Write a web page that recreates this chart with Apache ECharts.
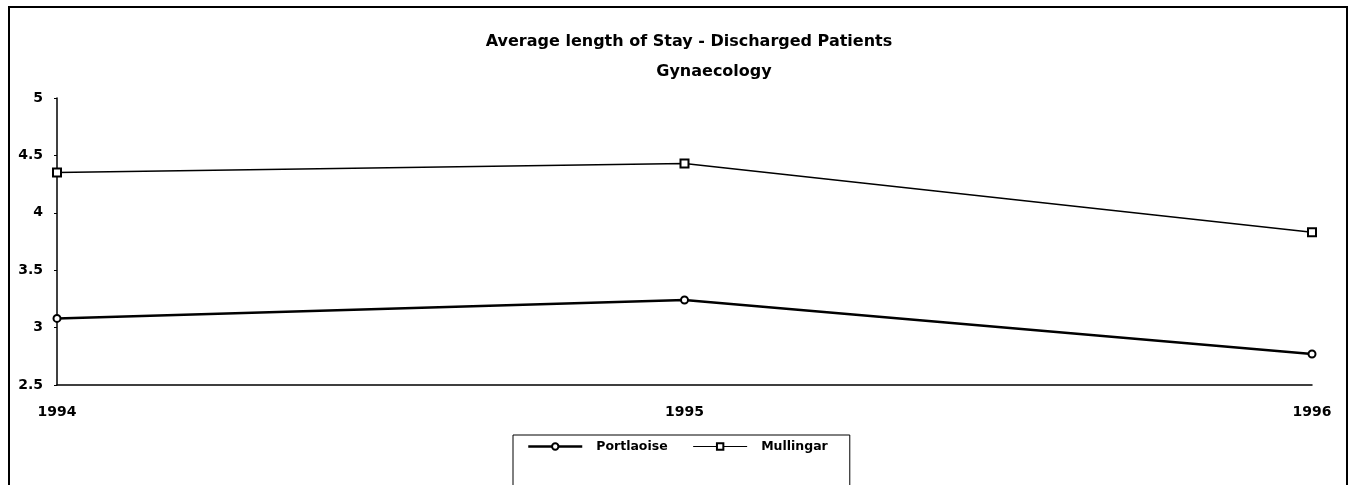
<!DOCTYPE html>
<html>
<head>
<meta charset="utf-8">
<script src="https://cdn.jsdelivr.net/npm/echarts@6/dist/echarts.min.js"></script>
<style>
html,body{margin:0;padding:0;background:#fff;}
#chart{width:1354px;height:485px;}
</style>
</head>
<body>
<div id="chart"></div>
<script>
// years on the x axis
var years = ['1994', '1995', '1996'];
// average length of stay (days)
var portlaoise = [3.08, 3.24, 2.77];
var mullingar = [4.35, 4.43, 3.83];

var font = '"DejaVu Sans", Verdana, sans-serif';

function drawChart() {
	var myChart = echarts.init(document.getElementById('chart'));
	var option = {
		backgroundColor: '#fff',
		animation: false,
		title: [{
			text: 'Average length of Stay - Discharged Patients',
			left: 684, top: 29, textAlign: 'center',
			textStyle: {fontFamily: font, fontSize: 16, fontWeight: 'bold', color: '#000'}
		}, {
			text: 'Gynaecology',
			left: 709, top: 59, textAlign: 'center',
			textStyle: {fontFamily: font, fontSize: 16, fontWeight: 'bold', color: '#000'}
		}],
		graphic: [{
			type: 'rect',
			shape: {x: 9, y: 7, width: 1338, height: 490},
			style: {fill: 'none', stroke: '#000', lineWidth: 2}
		}],
		legend: {
			data: [
				{name: 'Portlaoise', lineStyle: {width: 2.5}},
				{name: 'Mullingar', lineStyle: {width: 1}}
			],
			left: 513, top: 435,
			orient: 'horizontal',
			itemWidth: 54, itemHeight: 8, itemGap: 25,
			padding: [4, 22, 40, 14],
			borderColor: '#000', borderWidth: 1,
			textStyle: {fontFamily: font, fontSize: 12.5, fontWeight: 'bold', color: '#000', padding: [0, 0, 0, 9], lineHeight: 15}
		},
		grid: {left: 57, right: 42, top: 98, bottom: 100},
		xAxis: {
			type: 'category',
			data: years,
			boundaryGap: false,
			axisLine: {lineStyle: {color: '#000', width: 1.5}},
			axisTick: {show: false},
			axisLabel: {fontFamily: font, fontSize: 14, fontWeight: 'bold', color: '#000', margin: 20}
		},
		yAxis: {
			type: 'value',
			min: 2.5, max: 5, interval: 0.5,
			splitLine: {show: false},
			axisLine: {show: true, lineStyle: {color: '#000', width: 1.5}},
			axisTick: {show: true, length: 3, lineStyle: {color: '#000'}},
			axisLabel: {fontFamily: font, fontSize: 14, fontWeight: 'bold', color: '#000', margin: 14}
		},
		series: [{
			name: 'Portlaoise',
			type: 'line',
			data: portlaoise,
			symbol: 'emptyCircle', symbolSize: 7,
			lineStyle: {color: '#000', width: 2.5},
			itemStyle: {color: '#000', borderWidth: 1}
		}, {
			name: 'Mullingar',
			type: 'line',
			data: mullingar,
			symbol: 'emptyRect', symbolSize: 8,
			lineStyle: {color: '#000', width: 1.5},
			itemStyle: {color: '#000', borderWidth: 1}
		}]
	};
	myChart.setOption(option);
}

drawChart();
</script>
</body>
</html>
